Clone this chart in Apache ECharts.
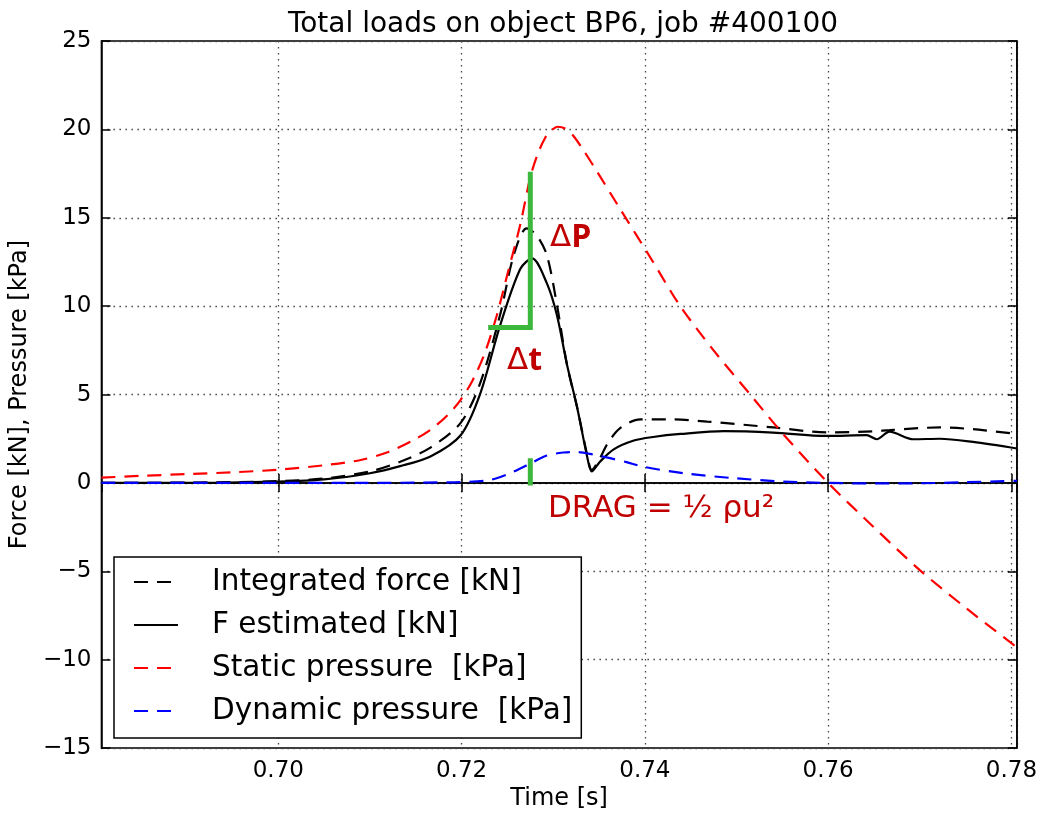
<!DOCTYPE html>
<html>
<head>
<meta charset="utf-8">
<script src="https://cdn.jsdelivr.net/npm/echarts@6/dist/echarts.min.js"></script>
<style>
html,body{margin:0;padding:0;background:#fff;}
#chart{width:1040px;height:816px;}
</style>
</head>
<body>
<div id="chart"></div>
<script>
// ---- data ----
const titleText = 'Total loads on object BP6, job #400100';
const xName = 'Time [s]';
const yName = 'Force [kN], Pressure [kPa]';
const seriesNames = ['Integrated force [kN]', 'F estimated [kN]', 'Static pressure  [kPa]', 'Dynamic pressure  [kPa]'];

const intT = [0.6807, 0.690, 0.700, 0.705, 0.710, 0.7133, 0.7166, 0.7199, 0.7220, 0.7242, 0.7257, 0.7271, 0.7282, 0.7293, 0.7304, 0.7315, 0.7326, 0.7337, 0.7342, 0.7350, 0.7359, 0.7373, 0.7395, 0.7430, 0.7468, 0.7540, 0.7598, 0.7649, 0.7667, 0.7722, 0.7758, 0.7806];
const intF = [0.00, 0.02, 0.10, 0.25, 0.65, 1.20, 2.00, 3.40, 5.60, 9.50, 12.90, 14.40, 14.00, 12.90, 10.10, 6.70, 4.30, 1.60, 0.74, 1.30, 2.20, 3.10, 3.60, 3.60, 3.47, 3.14, 2.86, 2.92, 2.99, 3.14, 3.04, 2.77];

const estT = [0.6807, 0.690, 0.700, 0.705, 0.710, 0.7133, 0.7166, 0.7199, 0.7220, 0.7242, 0.7264, 0.7277, 0.7293, 0.7304, 0.7315, 0.7326, 0.7337, 0.7342, 0.7351, 0.7366, 0.7388, 0.7409, 0.7439, 0.7486, 0.7540, 0.7598, 0.7642, 0.7653, 0.7667, 0.7693, 0.7722, 0.7758, 0.7806];
const estF = [0.00, 0.00, 0.08, 0.20, 0.55, 0.95, 1.50, 2.70, 5.00, 8.90, 12.10, 12.70, 11.30, 9.50, 6.70, 4.30, 1.50, 0.65, 1.20, 1.90, 2.40, 2.60, 2.77, 2.93, 2.85, 2.66, 2.70, 2.47, 2.90, 2.47, 2.50, 2.32, 1.95];

const statT = [0.6807, 0.685, 0.690, 0.695, 0.700, 0.705, 0.709, 0.712, 0.7145, 0.7166, 0.7185, 0.7199, 0.7212, 0.7225, 0.7238, 0.7250, 0.7264, 0.7275, 0.7283, 0.7291, 0.7298, 0.7305, 0.7313, 0.7321, 0.7332, 0.7348, 0.7373, 0.7409, 0.7438, 0.7475, 0.7515, 0.7551, 0.7600, 0.7649, 0.7700, 0.7751, 0.7806];
const statP = [0.30, 0.40, 0.50, 0.60, 0.75, 1.00, 1.30, 1.75, 2.35, 3.00, 3.85, 4.70, 5.80, 7.30, 9.40, 11.80, 14.60, 17.30, 18.60, 19.50, 19.95, 20.15, 20.05, 19.70, 18.90, 17.60, 15.50, 12.50, 10.05, 7.50, 5.00, 2.76, 0.00, -2.46, -4.93, -7.10, -9.30];

const dynT = [0.6807, 0.700, 0.710, 0.715, 0.7199, 0.7231, 0.7257, 0.7275, 0.7293, 0.7311, 0.7325, 0.7344, 0.7362, 0.7380, 0.7398, 0.7442, 0.7497, 0.7551, 0.7600, 0.7650, 0.7700, 0.7750, 0.7806];
const dynP = [0.00, 0.00, 0.00, 0.02, 0.05, 0.17, 0.64, 1.10, 1.55, 1.72, 1.75, 1.60, 1.40, 1.18, 0.92, 0.55, 0.27, 0.08, 0.00, -0.03, -0.02, 0.04, 0.12];

// green annotation segments (data coordinates)
const deltaPT = [0.7229, 0.7275, 0.7275];
const deltaPV = [8.80, 8.80, 17.60];
const dragMarkT = [0.7275, 0.7275];
const dragMarkV = [1.40, -0.15];

const xMin = 0.6807, xMax = 0.7806;
const yMin = -15, yMax = 25, yStep = 5;

const zip = (a, b) => a.map((v, i) => [v, b[i]]);

const chart = echarts.init(document.getElementById('chart'), null, {renderer: 'canvas'});
const font = 'DejaVu Sans';
const tickFmtY = v => (v < 0 ? '\u2212' + Math.abs(v) : String(v));

const gridLine = {show: true, lineStyle: {color: '#444', width: 1.3, type: [1.5, 4.5]}};
const tick = {show: true, inside: true, length: 9, lineStyle: {color: '#000', width: 1.5}};
const dash = [14, 9];
const lw = 2.2;

chart.setOption({
  animation: false,
  backgroundColor: '#fff',
  title: {
    text: titleText,
    left: 558, top: 6, textAlign: 'center',
    textStyle: {fontFamily: font, fontSize: 28, fontWeight: 'normal', color: '#000'}
  },
  grid: {left: 100, right: 23, top: 41, bottom: 63, show: true, borderColor: '#000', borderWidth: 1.5, containLabel: false},
  xAxis: [{
    type: 'value', min: xMin, max: xMax, splitNumber: 5, minInterval: 0.02, maxInterval: 0.02,
    name: xName, nameLocation: 'middle', nameGap: 33,
    nameTextStyle: {fontFamily: font, fontSize: 24, color: '#000'},
    axisLine: {show: true, lineStyle: {color: '#000', width: 1.5}},
    axisTick: tick,
    axisLabel: {fontFamily: font, fontSize: 23, color: '#000', margin: 11, showMinLabel: false, showMaxLabel: false,
      formatter: v => v.toFixed(2)},
    splitLine: gridLine
  }, {
    type: 'value', position: 'top', min: xMin, max: xMax, splitNumber: 5, minInterval: 0.02, maxInterval: 0.02,
    axisLine: {show: true, lineStyle: {color: '#000', width: 1.5}},
    axisTick: tick, axisLabel: {show: false}, splitLine: {show: false}
  }],
  yAxis: [{
    type: 'value', min: yMin, max: yMax, interval: yStep,
    name: yName, nameLocation: 'middle', nameGap: 57,
    nameTextStyle: {fontFamily: font, fontSize: 24, color: '#000'},
    axisLine: {show: true, lineStyle: {color: '#000', width: 1.5}},
    axisTick: tick,
    axisLabel: {fontFamily: font, fontSize: 23, color: '#000', margin: 10, formatter: tickFmtY},
    splitLine: gridLine
  }, {
    type: 'value', position: 'right', min: yMin, max: yMax, interval: yStep,
    axisLine: {show: true, lineStyle: {color: '#000', width: 1.5}},
    axisTick: tick, axisLabel: {show: false}, splitLine: {show: false}
  }],
  legend: {
    data: seriesNames,
    orient: 'vertical', left: 114, top: 557,
    backgroundColor: '#fff', borderColor: '#000', borderWidth: 1.5, borderRadius: 0,
    padding: [10, 9, 12, 19],
    itemWidth: 44, itemHeight: 14, itemGap: 13,
    itemStyle: {opacity: 0},
    textStyle: {fontFamily: font, fontSize: 29.5, color: '#000', lineHeight: 30, padding: [0, 0, 0, 29]},
    selectedMode: false
  },
  series: [
    {name: seriesNames[0], type: 'line', data: zip(intT, intF), showSymbol: false, symbol: 'none', smooth: 0.3,
     lineStyle: {color: '#000', width: lw, type: dash}, itemStyle: {color: '#000'}, z: 2},
    {name: seriesNames[1], type: 'line', data: zip(estT, estF), showSymbol: false, symbol: 'none', smooth: 0.3,
     lineStyle: {color: '#000', width: lw}, itemStyle: {color: '#000'}, z: 3},
    {name: seriesNames[2], type: 'line', data: zip(statT, statP), showSymbol: false, symbol: 'none', smooth: 0.3,
     lineStyle: {color: '#ff0000', width: lw, type: dash}, itemStyle: {color: '#ff0000'}, z: 4},
    {name: seriesNames[3], type: 'line', data: zip(dynT, dynP), showSymbol: false, symbol: 'none', smooth: 0.3,
     lineStyle: {color: '#0000ff', width: lw, type: dash}, itemStyle: {color: '#0000ff'}, z: 5},
    {name: 'deltaP', type: 'line', data: zip(deltaPT, deltaPV), showSymbol: false, symbol: 'none',
     lineStyle: {color: '#3cb83c', width: 5, cap: 'butt', join: 'miter'}, z: 6},
    {name: 'dragMark', type: 'line', data: zip(dragMarkT, dragMarkV), showSymbol: false, symbol: 'none',
     lineStyle: {color: '#3cb83c', width: 5, cap: 'butt'}, z: 6}
  ],
  graphic: [
    {type: 'text', left: 550, top: 222, z: 10,
     style: {text: '{d|Δ}{p|P}', rich: {
       d: {fontFamily: 'DejaVu Sans', fontSize: 31, fill: '#c00000', fontWeight: 'normal'},
       p: {fontFamily: 'Open Sans', fontSize: 32, fill: '#c00000', fontWeight: 'bold'}}}},
    {type: 'text', left: 507, top: 345, z: 10,
     style: {text: '{d|Δ}{p|t}', rich: {
       d: {fontFamily: 'DejaVu Sans', fontSize: 31, fill: '#c00000', fontWeight: 'normal'},
       p: {fontFamily: 'Open Sans', fontSize: 32, fill: '#c00000', fontWeight: 'bold'}}}},
    {type: 'text', left: 548, top: 493, z: 10,
     style: {text: 'DRAG = ½ ρu²', fontFamily: 'DejaVu Sans', fontSize: 31, fill: '#c00000'}}
  ]
});
</script>
</body>
</html>
